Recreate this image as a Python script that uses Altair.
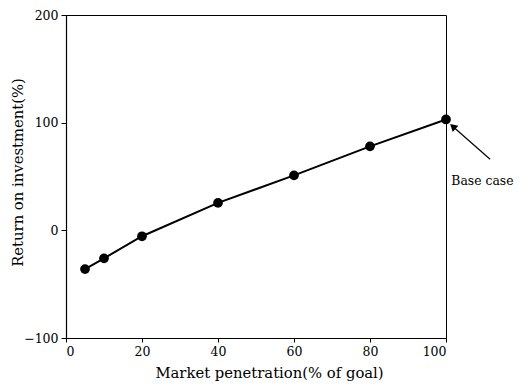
import altair as alt
import pandas as pd

penetration = [5, 10, 20, 40, 60, 80, 100]
roi = [-36, -26, -5.5, 25.5, 51, 78, 103]

x_ticks = [0, 10, 20, 30, 40, 50, 60, 70, 80, 90, 100]
y_ticks = [-100, 0, 100, 200]

arrow_x = [111.6, 101.8]
arrow_y = [66, 96.5]
label_x = [101.4]
label_y = [46]
label_text = ["Base case"]

FONT = "DejaVu Serif"

df = pd.DataFrame({"x": penetration, "y": roi})
arrow_df = pd.DataFrame({"x": arrow_x, "y": arrow_y, "o": [0, 1]})
tip_df = pd.DataFrame({"x": arrow_x[1:], "y": arrow_y[1:]})
lab_df = pd.DataFrame({"x": label_x, "y": label_y, "t": label_text})

xs = alt.Scale(domain=[0, 100], nice=False, zero=False)
ys = alt.Scale(domain=[-100, 200], nice=False, zero=False)

xaxis = alt.Axis(values=x_ticks, title="Market penetration(% of goal)",
                 labelExpr="datum.value % 20 == 0 ? datum.label : ''",
                 grid=False, tickSize=4, labelPadding=3, titlePadding=8,
                 titleX=203)
yaxis = alt.Axis(values=y_ticks, title="Return on investment(%)",
                 grid=False, tickSize=5, labelPadding=3,
                 titleX=-48, titleY=157, titleAngle=270, titleAlign="center",
                 titleBaseline="middle")

line = alt.Chart(df).mark_line(color="black", strokeWidth=2).encode(
    x=alt.X("x:Q", scale=xs, axis=xaxis),
    y=alt.Y("y:Q", scale=ys, axis=yaxis),
)
pts = alt.Chart(df).mark_point(filled=True, color="black", size=95, opacity=1).encode(
    x=alt.X("x:Q", scale=xs), y=alt.Y("y:Q", scale=ys)
)
arrow = alt.Chart(arrow_df).mark_line(color="black", strokeWidth=1.2, clip=False).encode(
    x=alt.X("x:Q", scale=xs), y=alt.Y("y:Q", scale=ys), order="o:Q"
)
tip = alt.Chart(tip_df).mark_point(shape="triangle-up", filled=True, color="black",
                                   size=70, angle=312, opacity=1, clip=False).encode(
    x=alt.X("x:Q", scale=xs), y=alt.Y("y:Q", scale=ys)
)
label = alt.Chart(lab_df).mark_text(font=FONT, fontSize=12.4, align="left",
                                    baseline="middle", color="black", clip=False).encode(
    x=alt.X("x:Q", scale=xs), y=alt.Y("y:Q", scale=ys), text="t:N"
)

chart = alt.layer(line, pts, arrow, tip, label).properties(
    width=380, height=323,
    autosize=alt.AutoSizeParams(type="none"),
    padding={"left": 58, "top": 7, "right": 74, "bottom": 44},
).configure_view(stroke="black", strokeWidth=1).configure_axis(
    domainColor="black", tickColor="black", labelColor="black", titleColor="black",
    labelFont=FONT, titleFont=FONT, labelFontSize=12.5, titleFontSize=14.8,
    titleFontWeight="normal", domainWidth=1.2,
)

chart.save("out.html", embed_options={"renderer": "svg", "actions": False})
